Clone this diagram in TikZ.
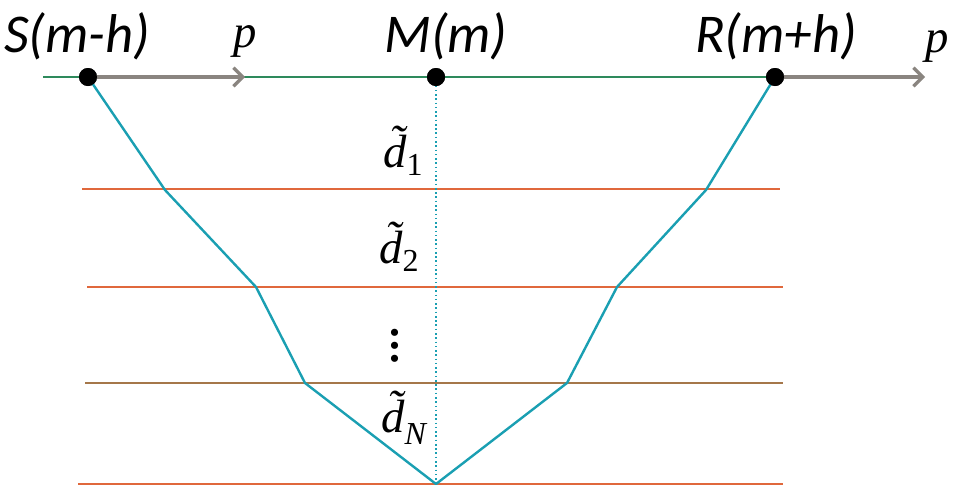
\documentclass[tikz,border=0pt]{standalone}
\usepackage{fontspec}
\setmainfont{Liberation Serif}
\newfontfamily\calfont{Carlito}
\usetikzlibrary{arrows.meta}
\definecolor{grn}{HTML}{2E8A5C}
\definecolor{gry}{HTML}{8A8580}
\definecolor{cyn}{HTML}{1A9FB2}
\definecolor{org}{HTML}{E0683C}
\definecolor{brn}{HTML}{A5774A}
\newcommand{\subsz}{\fontsize{24}{24}\selectfont}
\newcommand{\mydots}{\vbox{\offinterlineskip\fontsize{45}{45}\selectfont\upshape
  \hbox{.}\kern4.6pt\hbox{.}\kern4.6pt\hbox{.}}}
\tikzset{
  ptlabel/.style={font=\calfont\itshape\fontsize{41}{41}\selectfont, inner sep=0pt},
  serif/.style={font=\itshape\fontsize{35}{35}\selectfont, inner sep=0pt},
  dlabel/.style={serif, anchor=base west},
  dot/.style={circle, fill=black, minimum size=13.5pt, inner sep=0pt},
  pointer/.style={gry, line width=2.6pt, -{Straight Barb[length=7pt,width=14pt,line width=2.4pt]}},
  surf/.style={grn, line width=2pt},
  layer/.style={org, line width=2.2pt},
  ray/.style={cyn, line width=1.8pt},
}
\begin{document}
\begin{tikzpicture}[x=0.75pt,y=-0.75pt]
\useasboundingbox (0,0) rectangle (959,486);
% coordinates
\coordinate (L0) at (43,77);
\coordinate (A1) at (245,77);
\coordinate (A2) at (925,77);
% layers
\draw[layer] (82,189) -- (780,189);
\draw[layer] (87,287) -- (783,287);
\draw[layer, brn] (85,383) -- (783,383);
\draw[layer] (78,484) -- (783,484);
% surface
\draw[surf] (L0) -- (775,77);
% points
\node[dot] (S) at (88,77) {};
\node[dot] (M) at (436,77) {};
\node[dot] (R) at (775,77) {};
\draw[pointer] (S.center) -- (A1);
\draw[pointer] (R.center) -- (A2);
% ray path
\coordinate (B) at (436,484);
\draw[ray, line join=round] (S.center) -- (165,190) -- (256,287) -- (305,383) -- (B) -- (567,383) -- (617,287) -- (706,190) -- (R.center);
\draw[cyn, line width=1.2pt, dotted] (M.center) -- (B);
\node[dot] at (S) {};
\node[dot] at (M) {};
\node[dot] at (R) {};
% labels
\node[ptlabel] (lS) at (77,36) {S(m-h)};
\node[ptlabel] (lM) at (446,36) {M(m)};
\node[ptlabel] (lR) at (776,36) {R(m+h)};
\node[serif] (p1) at (245,41) {p};
\node[serif] (p2) at (937,46) {p};
\node[dlabel] (d1) at (383,167) {\~{d}\raisebox{-6pt}{\subsz\upshape 1}};
\node[dlabel] (d2) at (379,263) {\~{d}\raisebox{-6pt}{\subsz\upshape 2}};
\node[inner sep=0pt] (dots) at (395,346) {\mydots};
\node[dlabel] (dN) at (381,432) {\~{d}\raisebox{-9pt}{\subsz N}};
\end{tikzpicture}
\end{document}
